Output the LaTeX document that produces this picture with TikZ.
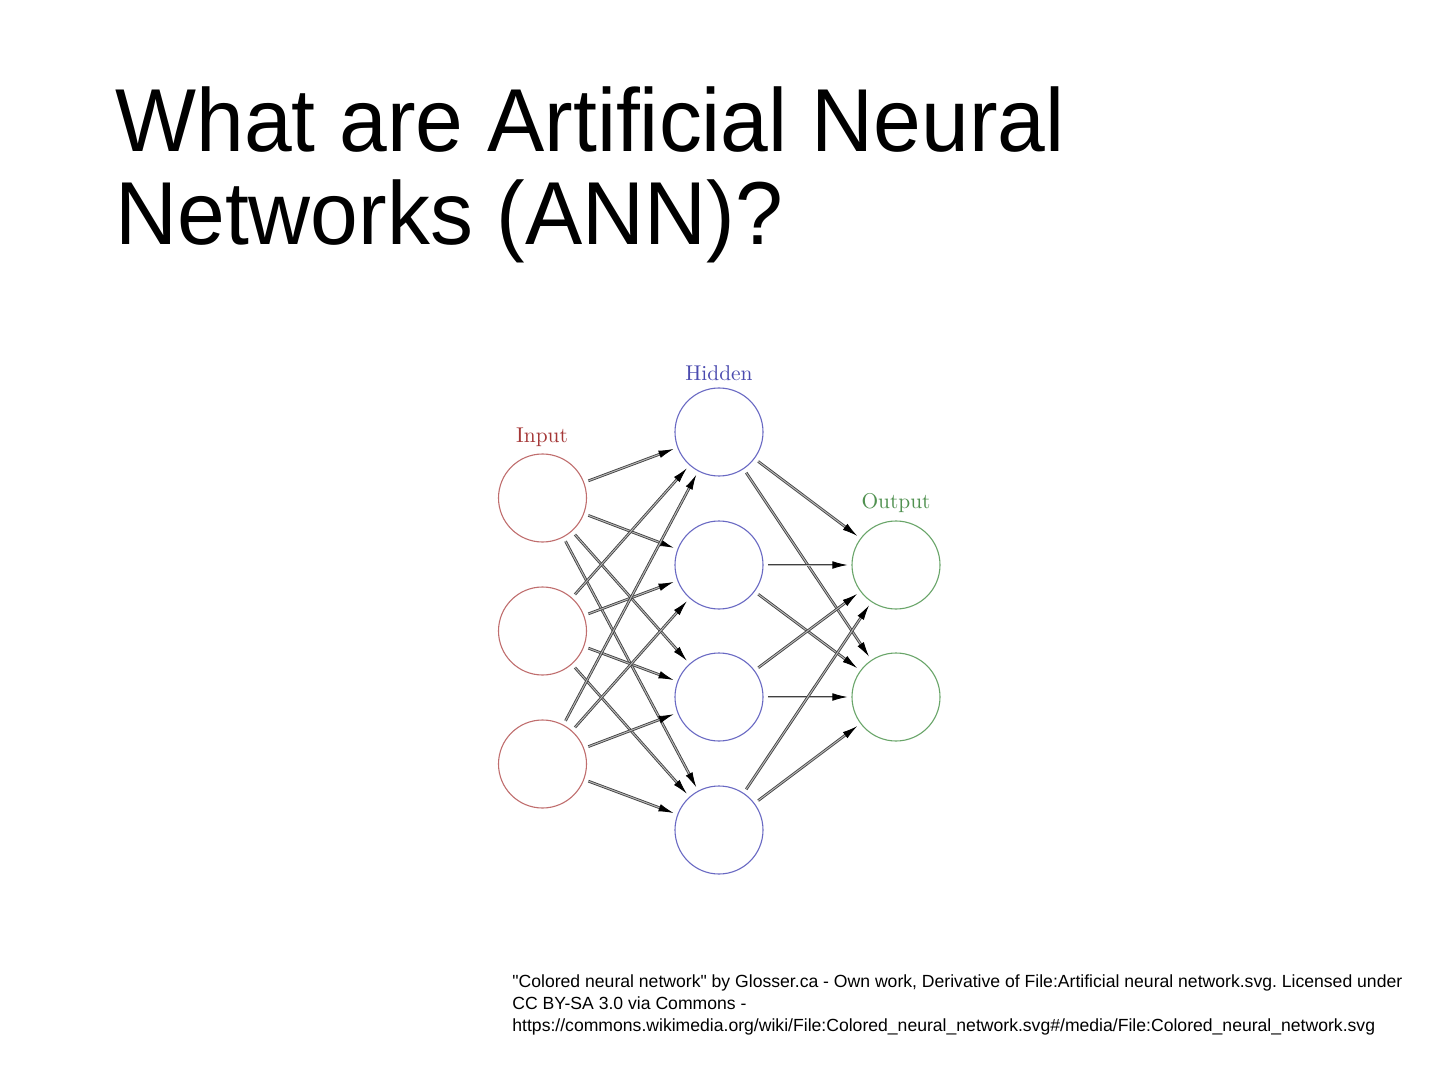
\documentclass[tikz,border=0pt]{standalone}
\usepackage{fontspec}
\newfontfamily\titlefont[FakeStretch=0.96]{Liberation Sans}
\newfontfamily\capfont{Liberation Sans}
\usetikzlibrary{arrows.meta}
\frenchspacing
\definecolor{inputc}{RGB}{192,110,110}
\definecolor{hiddenc}{RGB}{105,105,195}
\definecolor{outputc}{RGB}{105,165,105}
\definecolor{inputt}{RGB}{165,55,55}
\definecolor{hiddent}{RGB}{75,75,175}
\definecolor{outputt}{RGB}{80,145,80}
\tikzset{
  neuron/.style={circle,draw,line width=0.55pt,minimum size=44pt,inner sep=0pt},
  inneuron/.style={neuron,draw=inputc},
  hidneuron/.style={neuron,draw=hiddenc},
  outneuron/.style={neuron,draw=outputc},
  layerlabel/.style={anchor=base,inner sep=0pt,font={\fontsize{10.7}{13}\selectfont}},
  conn/.style={draw=black!75,line width=0.42pt,double=black!28,double distance=0.5pt,
    shorten >=2pt,shorten <=2.2pt,
    -{Latex[length=7.5pt,width=3.8pt,color=black,fill=black]}},
  titletext/.style={anchor=base west,inner sep=0pt,font={\fontsize{44.7}{46.5}\selectfont\titlefont}},
  captext/.style={anchor=base west,inner sep=0pt,font={\fontsize{8.8}{11}\selectfont\capfont}}
}
\begin{document}
\begin{tikzpicture}[x=0.5pt,y=-0.5pt]
\useasboundingbox[fill=white] (0,0) rectangle (1440,1080);
% title
\node[titletext] (t1) at (115,152) {What are Artificial Neural};
\node[titletext] (t2) at (115,245) {Networks (ANN)?};
% neurons
\node[inneuron] (i1) at (542.5,498) {};
\node[inneuron] (i2) at (542.5,631) {};
\node[inneuron] (i3) at (542.5,764) {};
\node[hidneuron] (h1) at (719,432) {};
\node[hidneuron] (h2) at (719,565) {};
\node[hidneuron] (h3) at (719,697) {};
\node[hidneuron] (h4) at (719,830) {};
\node[outneuron] (o1) at (896,565) {};
\node[outneuron] (o2) at (896,697) {};
% labels
\node[layerlabel,text=inputt] (li) at (542,443) {Input};
\node[layerlabel,text=hiddent] (lh) at (719,381) {Hidden};
\node[layerlabel,text=outputt] (lo) at (896,509) {Output};
% connections
\foreach \a in {i1,i2,i3}{
  \foreach \b in {h1,h2,h3,h4}{
    \draw[conn] (\a) -- (\b);
  }
}
\foreach \a in {h1,h2,h3,h4}{
  \foreach \b in {o1,o2}{
    \draw[conn] (\a) -- (\b);
  }
}
% caption
\node[captext] (c1) at (512,987) {"Colored neural network" by Glosser.ca - Own work, Derivative of File:Artificial neural network.svg. Licensed under};
\node[captext] (c2) at (512,1009) {CC BY-SA 3.0 via Commons -};
\node[captext] (c3) at (512,1031) {https://commons.wikimedia.org/wiki/File:Colored\_neural\_network.svg\#/media/File:Colored\_neural\_network.svg};
\end{tikzpicture}
\end{document}
